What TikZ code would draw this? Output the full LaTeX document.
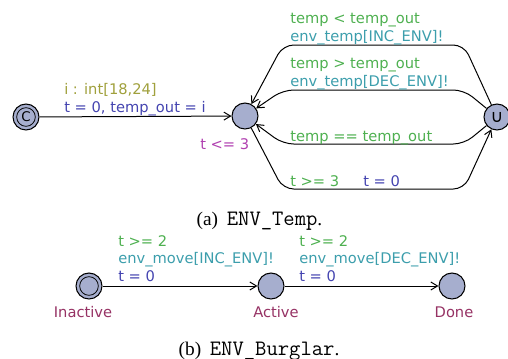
\documentclass[tikz,border=0pt]{standalone}
\usepackage{fontspec}
\setmainfont{Liberation Serif}
\newfontfamily\uppfont{DejaVu Sans}
\usepackage{tikz}
\usetikzlibrary{arrows.meta}
\definecolor{locfill}{RGB}{166,174,206}
\definecolor{guardcol}{RGB}{78,176,80}
\definecolor{synccol}{RGB}{60,158,172}
\definecolor{updcol}{RGB}{68,68,176}
\definecolor{selcol}{RGB}{160,160,60}
\definecolor{invcol}{RGB}{176,64,176}
\definecolor{namecol}{RGB}{150,50,100}
\tikzstyle{location}=[circle,draw=black,fill=locfill,minimum size=19.5pt,inner sep=0pt,line width=0.8pt]
\tikzstyle{edge} = [draw,line width=0.75pt,-{Straight Barb[length=5pt,width=6pt]}]
\tikzstyle{lbl}=[anchor=base west,inner sep=0pt,font=\uppfont\fontsize{11}{13.5}\selectfont]
\tikzstyle{locname}=[anchor=base,inner sep=0pt,text=namecol,font=\uppfont\fontsize{11}{13.5}\selectfont]
\tikzstyle{caption}=[anchor=base,inner sep=0pt,font=\fontsize{14.5}{17}\selectfont]
\newcommand{\captt}[1]{\hspace{0.45em}{\ttfamily\fontsize{16.5}{17}\selectfont #1}}

\begin{document}
\begin{tikzpicture}[x=0.75pt,y=-0.75pt]
    \useasboundingbox (0,0) rectangle (508,358);
    % (a) ENV_Temp
    % First the locations
    \node[location] (init) at (26,117) {};
    \node[location] (main) at (245,116) {};
    \node[location,font=\uppfont\fontsize{13}{13}\selectfont] (urg) at (497,117) {∪};
    \draw[line width=0.6pt] (init.center) circle (7pt);
    \node[inner sep=0pt,font=\uppfont\fontsize{10}{10}\selectfont] (initc) at (init.center) {C};
    % Then the edges
    \path[edge] (init) -- (main);
    \path[edge,rounded corners=8pt] (urg) -- (464,45) -- (283,45) -- (main);
    \path[edge,rounded corners=8pt] (urg) -- (464,90) -- (283,90) -- (main);
    \path[edge,rounded corners=8pt] (urg) -- (464,144) -- (283,144) -- (main);
    \path[edge,rounded corners=8pt] (main) -- (283,189) -- (464,189) -- (urg);
    % Edge labels
    \node[lbl,text=selcol] (sel) at (64,94) {i : int[18,24]};
    \node[lbl,text=updcol] (upd) at (64,112) {t = 0, temp\_out = i};
    \node[lbl,text=invcol] (inv) at (200,149) {t <= 3};
    \node[lbl,text=guardcol] (grdinc) at (290,23) {temp < temp\_out};
    \node[lbl,text=synccol] (syncinc) at (290,41) {env\_temp[INC\_ENV]!};
    \node[lbl,text=guardcol] (grddec) at (290,68) {temp > temp\_out};
    \node[lbl,text=synccol] (syncdec) at (290,86) {env\_temp[DEC\_ENV]!};
    \node[lbl,text=guardcol] (grdeq) at (290,141) {temp == temp\_out};
    \node[lbl,text=guardcol] (grdtime) at (290,186) {t >= 3};
    \node[lbl,text=updcol] (updtime) at (363,186) {t = 0};
    \node[caption] (capa) at (259.5,225) {(a)\captt{ENV\_Temp}.};

    % (b) ENV_Burglar
    \foreach \pos/\name in {89/inact, 271/act, 452/done}
        \node[location] (\name) at (\pos,286) {};
    \draw[line width=0.6pt] (inact.center) circle (7pt);
    \foreach \pos/\name/\txt in {83/nminact/Inactive, 276/nmact/Active, 454/nmdone/Done}
        \node[locname] (\name) at (\pos,317) {\txt};
    \foreach \source/\dest in {inact/act, act/done}
        \path[edge] (\source) -- (\dest);
    \node[lbl,text=guardcol] (grdmvinc) at (118,246) {t >= 2};
    \node[lbl,text=synccol] (syncmvinc) at (118,263) {env\_move[INC\_ENV]!};
    \node[lbl,text=updcol] (updmvinc) at (118,281) {t = 0};
    \node[lbl,text=guardcol] (grdmvdec) at (299,246) {t >= 2};
    \node[lbl,text=synccol] (syncmvdec) at (299,263) {env\_move[DEC\_ENV]!};
    \node[lbl,text=updcol] (updmvdec) at (299,281) {t = 0};
    \node[caption] (capb) at (259,355) {(b)\captt{ENV\_Burglar}.};
\end{tikzpicture}
\end{document}
